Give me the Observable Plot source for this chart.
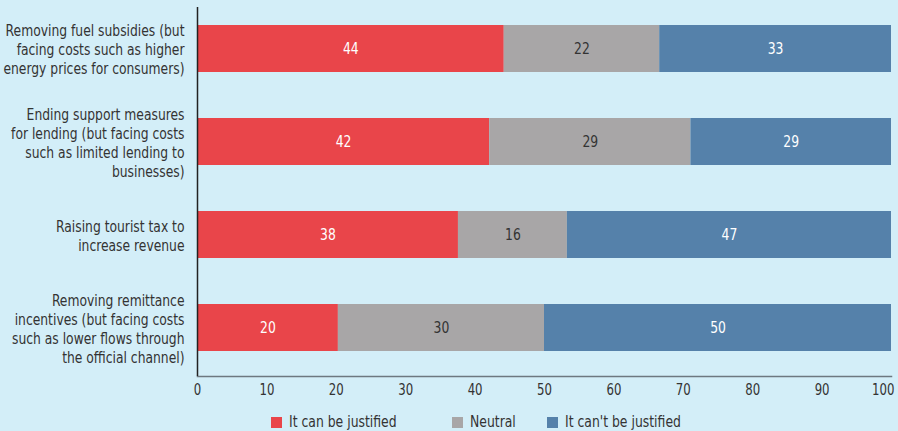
<!DOCTYPE html>
<html>
<head>
<meta charset="utf-8">
<script src="https://cdn.jsdelivr.net/npm/d3@7"></script>
<script src="https://cdn.jsdelivr.net/npm/@observablehq/plot@0.6"></script>
<style>
  html, body { margin: 0; padding: 0; background: #d3eef8; }
  body { width: 898px; height: 431px; overflow: hidden; font-family: "DejaVu Sans Condensed", sans-serif; color: #333; }
  #chart svg { display: block; }
  #legend { position: relative; height: 26px; font-size: 15px; }
  .item { position: absolute; top: 8px; display: flex; align-items: center; white-space: nowrap; }
  .sw { width: 11px; height: 11px; margin-right: 7px; }
  .lt { display: inline-block; transform: scaleX(0.92); transform-origin: left center; }
</style>
</head>
<body>
<div id="chart"></div>
<div id="legend"></div>
<script>
const categories = [
  "Removing fuel subsidies (but\nfacing costs such as higher\nenergy prices for consumers)",
  "Ending support measures\nfor lending (but facing costs\nsuch as limited lending to\nbusinesses)",
  "Raising tourist tax to\nincrease revenue",
  "Removing remittance\nincentives (but facing costs\nsuch as lower flows through\nthe official channel)"
];
const series = ["It can be justified", "Neutral", "It can't be justified"];
const justified = [44.2, 42.1, 37.6, 20.3];
const neutral = [22.4, 29.0, 15.7, 29.7];
const notJustified = [33.4, 28.9, 46.7, 50.0];
const colors = ["#e9454a", "#a8a6a7", "#5581aa"];
const xTicks = [0, 10, 20, 30, 40, 50, 60, 70, 80, 90, 100];
const legendLeft = [271, 452, 547];

const valuesBySeries = [justified, neutral, notJustified];
const data = categories.flatMap((c, i) => series.map((s, j) => ({cat: c, series: s, value: valuesBySeries[j][i]})));

const font = '"DejaVu Sans Condensed", sans-serif';
const chart = Plot.plot({
  width: 898,
  height: 405,
  marginLeft: 197,
  marginRight: 7,
  marginTop: 7,
  marginBottom: 29,
  style: {background: "transparent", fontFamily: font, fontSize: "15px", color: "#333"},
  x: {domain: [0, 100], ticks: xTicks, label: null},
  y: {domain: categories, paddingInner: 0.5, paddingOuter: 0.213, align: 0.42, label: null},
  color: {domain: series, range: colors},
  marks: [
    Plot.barX(data, Plot.stackX({x: "value", y: "cat", fill: "series", z: "series", order: series})),
    Plot.text(data, Plot.stackX({x: "value", y: "cat", z: "series", order: series, text: d => d.series === "Neutral" ? null : Math.round(d.value), fill: "white", fontSize: 16})),
    Plot.text(data, Plot.stackX({x: "value", y: "cat", z: "series", order: series, text: d => d.series === "Neutral" ? Math.round(d.value) : null, fill: "#333", fontSize: 16})),
    Plot.axisX({ticks: xTicks.slice(0, -1), tickSize: 0, tickPadding: 8, label: null, fill: "#333", fontSize: 15}),
    Plot.axisX({ticks: xTicks.slice(-1), tickSize: 0, tickPadding: 8, label: null, fill: "#333", fontSize: 15, textAnchor: "end", dx: 3}),
    Plot.axisY({tickSize: 0, tickPadding: 13, label: null, fill: "#333", fontSize: 15, lineHeight: 1.27}),
    Plot.frame({anchor: "bottom", stroke: "#6d7880", strokeWidth: 1.5}),
    Plot.ruleX([0], {stroke: "#222", strokeWidth: 1.5})
  ]
});
document.getElementById("chart").appendChild(chart);

// condense the typeface horizontally to match the narrow font of the original
function condense(selector, k) {
  d3.select(chart).selectAll(selector).each(function () {
    const t = this.getAttribute("transform") || "";
    this.setAttribute("transform", t + ` scale(${k},1)`);
  });
}
condense("g[aria-label='y-axis tick label'] text", 0.915);
condense("g[aria-label='x-axis tick label'] text", 0.87);
condense("g[aria-label='text'] text", 0.86);

const legend = document.getElementById("legend");
series.forEach((s, i) => {
  const item = document.createElement("div");
  item.className = "item";
  item.style.left = legendLeft[i] + "px";
  const sw = document.createElement("div");
  sw.className = "sw";
  sw.style.background = colors[i];
  const t = document.createElement("span");
  t.className = "lt";
  t.textContent = s;
  item.appendChild(sw);
  item.appendChild(t);
  legend.appendChild(item);
});
</script>
</body>
</html>
